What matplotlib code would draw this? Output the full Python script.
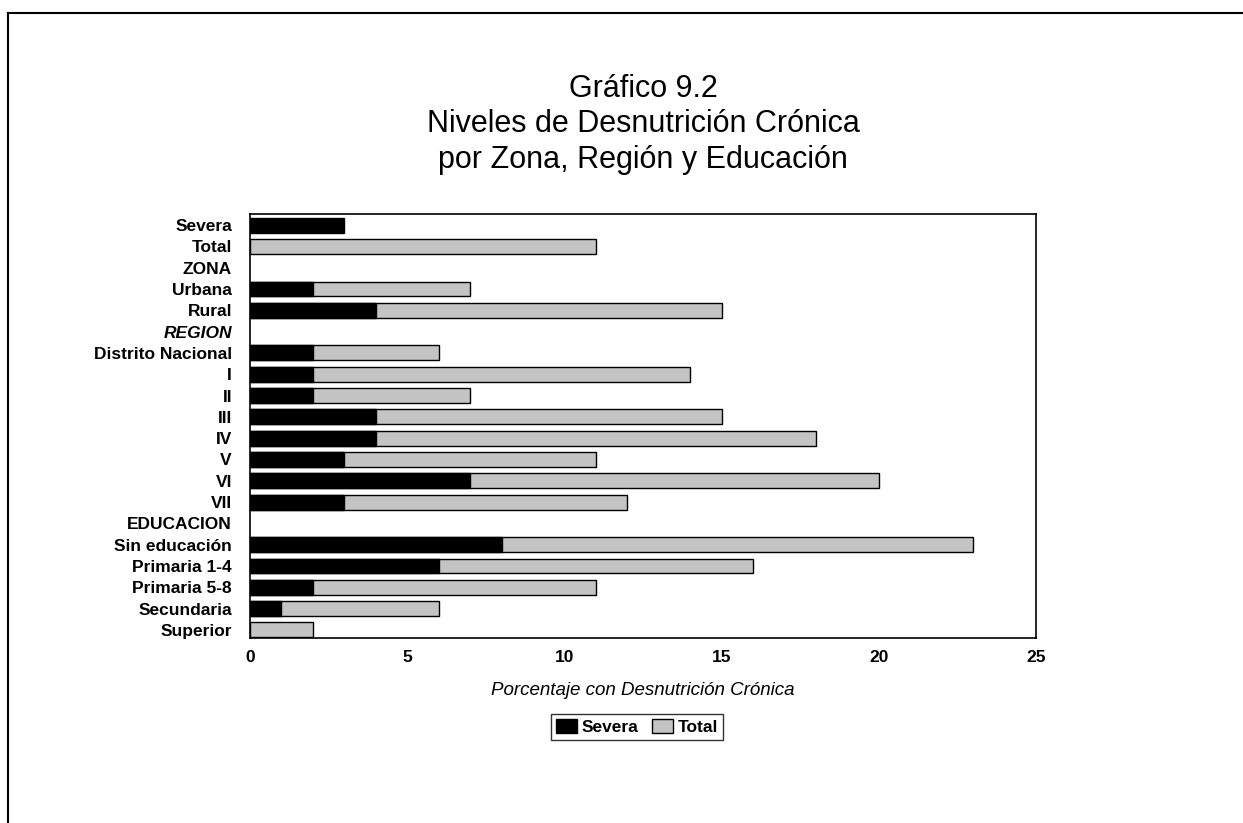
import matplotlib
matplotlib.use("Agg")
import matplotlib.pyplot as plt
from matplotlib.patches import Patch
from matplotlib.lines import Line2D

categories = ["Severa", "Total", "ZONA", "Urbana", "Rural", "REGION",
              "Distrito Nacional", "I", "II", "III", "IV", "V", "VI", "VII",
              "EDUCACION", "Sin educación", "Primaria 1-4", "Primaria 5-8",
              "Secundaria", "Superior"]
severa = [3, None, None, 2, 4, None, 2, 2, 2, 4, 4, 3, 7, 3, None, 8, 6, 2, 1, 0]
total = [None, 11, None, 7, 15, None, 6, 14, 7, 15, 18, 11, 20, 12, None, 23, 16, 11, 6, 2]
xticks = [0, 5, 10, 15, 20, 25]

plt.rcParams['font.family'] = ['Liberation Sans', 'DejaVu Sans']

fig = plt.figure(figsize=(12.43, 8.23), dpi=100)
ax = fig.add_axes([250/1243, 1-638/823, (1036-250)/1243, (638-214)/823])

y = list(range(len(categories)))
gray = '#c4c4c4'
bh = 0.7
for i in y:
    if total[i] is not None:
        ax.barh(i, total[i], height=bh, color=gray, edgecolor='black', linewidth=1.0)
    if severa[i] is not None and severa[i] > 0:
        ax.barh(i, severa[i], height=bh, color='black', edgecolor='black', linewidth=1.0)

ax.set_xlim(0, 25)
ax.set_ylim(19.38, -0.52)
ax.set_yticks(y)
ax.set_yticklabels(categories, fontsize=12.5, fontweight='bold')
for lbl in ax.get_yticklabels():
    if lbl.get_text() == "REGION":
        lbl.set_fontstyle('italic')
ax.set_xticks(xticks)
ax.set_xticklabels([str(v) for v in xticks], fontsize=12.5, fontweight='bold')
ax.tick_params(axis='both', length=0)
ax.tick_params(axis='y', pad=13)
ax.tick_params(axis='x', pad=9)
for s in ax.spines.values():
    s.set_linewidth(1.2)

ax.set_xlabel("Porcentaje con Desnutrición Crónica", fontsize=13.5, fontstyle='italic', labelpad=12)

fig.text(0.5174, 1-89/823, "Gráfico 9.2", ha='center', va='center', fontsize=22)
fig.text(0.5174, 1-124/823, "Niveles de Desnutrición Crónica", ha='center', va='center', fontsize=22)
fig.text(0.5174, 1-160/823, "por Zona, Región y Educación", ha='center', va='center', fontsize=22)

handles = [Patch(facecolor='black', edgecolor='black'),
           Patch(facecolor=gray, edgecolor='black')]
leg = fig.legend(handles, ["Severa", "Total"], loc='center', bbox_to_anchor=(637/1243, 1-727/823),
                 ncol=2, frameon=True, fancybox=False, handlelength=1.2,
                 handleheight=0.9, handletextpad=0.25, columnspacing=0.8, borderpad=0.3,
                 prop={'weight': 'bold', 'size': 12.5})
leg.get_frame().set_edgecolor('black')
leg.get_frame().set_linewidth(1.0)

# page border lines (top and left)
fig.add_artist(Line2D([8/1243, 1], [1-13/823, 1-13/823], color='black', linewidth=1.5, transform=fig.transFigure))
fig.add_artist(Line2D([8/1243, 8/1243], [0, 1-13/823], color='black', linewidth=1.5, transform=fig.transFigure))

fig.savefig("out.png", dpi=100)
